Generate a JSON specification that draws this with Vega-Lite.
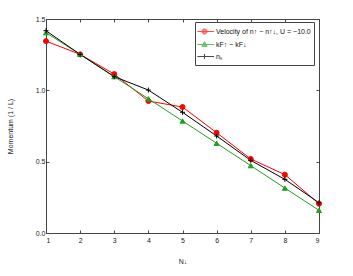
{
  "$schema": "https://vega.github.io/schema/vega-lite/v6.json",
  "width": 273,
  "height": 214,
  "autosize": {"type": "none"},
  "padding": {"left": 46, "top": 19, "right": 34, "bottom": 43},
  "background": "white",
  "config": {
    "font": "Liberation Sans",
    "view": {"stroke": "#444", "strokeWidth": 1},
    "axis": {"grid": false, "domain": false, "tickColor": "#444", "tickSize": -3, "labelFontSize": 7, "labelColor": "#222", "titleFontSize": 7, "titleFontWeight": "normal", "titleColor": "#222", "labelFont": "Liberation Sans", "titleFont": "Liberation Sans"},
    "legend": {"labelFont": "Liberation Sans", "labelFontSize": 7, "labelColor": "#111"}
  },
  "data": {"values": [
    {"N": 1, "s": "Velocity of n↑ − n↑↓, U = −10.0", "v": 1.345},
    {"N": 2, "s": "Velocity of n↑ − n↑↓, U = −10.0", "v": 1.252},
    {"N": 3, "s": "Velocity of n↑ − n↑↓, U = −10.0", "v": 1.114},
    {"N": 4, "s": "Velocity of n↑ − n↑↓, U = −10.0", "v": 0.925},
    {"N": 5, "s": "Velocity of n↑ − n↑↓, U = −10.0", "v": 0.883},
    {"N": 6, "s": "Velocity of n↑ − n↑↓, U = −10.0", "v": 0.703},
    {"N": 7, "s": "Velocity of n↑ − n↑↓, U = −10.0", "v": 0.519},
    {"N": 8, "s": "Velocity of n↑ − n↑↓, U = −10.0", "v": 0.409},
    {"N": 9, "s": "Velocity of n↑ − n↑↓, U = −10.0", "v": 0.205},
    {"N": 1, "s": "kF↑ − kF↓", "v": 1.404},
    {"N": 2, "s": "kF↑ − kF↓", "v": 1.252},
    {"N": 3, "s": "kF↑ − kF↓", "v": 1.096},
    {"N": 4, "s": "kF↑ − kF↓", "v": 0.941},
    {"N": 5, "s": "kF↑ − kF↓", "v": 0.785},
    {"N": 6, "s": "kF↑ − kF↓", "v": 0.629},
    {"N": 7, "s": "kF↑ − kF↓", "v": 0.472},
    {"N": 8, "s": "kF↑ − kF↓", "v": 0.315},
    {"N": 9, "s": "kF↑ − kF↓", "v": 0.159},
    {"N": 1, "s": "nₖ", "v": 1.418},
    {"N": 2, "s": "nₖ", "v": 1.252},
    {"N": 3, "s": "nₖ", "v": 1.096},
    {"N": 4, "s": "nₖ", "v": 1.002},
    {"N": 5, "s": "nₖ", "v": 0.846},
    {"N": 6, "s": "nₖ", "v": 0.680},
    {"N": 7, "s": "nₖ", "v": 0.509},
    {"N": 8, "s": "nₖ", "v": 0.376},
    {"N": 9, "s": "nₖ", "v": 0.212}
  ]},
  "resolve": {
    "scale": {"stroke": "independent", "fill": "independent", "shape": "independent"},
    "axis": {"x": "independent", "y": "independent"}
  },
  "layer": [
    {
      "mark": {"type": "line", "strokeWidth": 1},
      "encoding": {
        "x": {"field": "N", "type": "quantitative", "title": "N↓", "scale": {"domain": [1, 9], "nice": false, "zero": false}, "axis": {"orient": "bottom", "values": [1,2,3,4,5,6,7,8,9], "labelPadding": 6, "titlePadding": 14}},
        "y": {"field": "v", "type": "quantitative", "title": "Momentum (1 / L)", "scale": {"domain": [0, 1.5], "nice": false}, "axis": {"orient": "left", "values": [0, 0.5, 1, 1.5], "labelPadding": 4, "titlePadding": 22}},
        "stroke": {"field": "s", "type": "nominal", "legend": null, "scale": {"domain": ["Velocity of n↑ − n↑↓, U = −10.0", "kF↑ − kF↓", "nₖ"], "range": ["#ff0000", "#20a020", "#000000"]}},
        "order": {"field": "N", "type": "quantitative"}
      }
    },
    {
      "mark": {"type": "point", "filled": true, "size": 25, "strokeWidth": 1, "opacity": 1},
      "encoding": {
        "x": {"field": "N", "type": "quantitative", "axis": {"orient": "top", "values": [1,2,3,4,5,6,7,8,9], "labels": false, "title": null}},
        "y": {"field": "v", "type": "quantitative", "axis": {"orient": "right", "values": [0, 0.5, 1, 1.5], "labels": false, "title": null}},
        "fill": {"field": "s", "type": "nominal", "legend": null, "scale": {"domain": ["Velocity of n↑ − n↑↓, U = −10.0", "kF↑ − kF↓", "nₖ"], "range": ["#ff0000", "#20a020", "#000000"]}},
        "stroke": {"field": "s", "type": "nominal", "legend": null, "scale": {"domain": ["Velocity of n↑ − n↑↓, U = −10.0", "kF↑ − kF↓", "nₖ"], "range": ["#ff0000", "#20a020", "#000000"]}},
        "shape": {"field": "s", "type": "nominal", "legend": null, "scale": {"domain": ["Velocity of n↑ − n↑↓, U = −10.0", "kF↑ − kF↓", "nₖ"], "range": ["circle", "triangle-up", "M-1,0H1M0,-1V1"]}}
      }
    },
    {
      "transform": [{"filter": "datum.N > 100"}],
      "mark": {"type": "point", "filled": true, "strokeWidth": 1},
      "encoding": {
        "x": {"field": "N", "type": "quantitative", "axis": null},
        "y": {"field": "v", "type": "quantitative", "axis": null},
        "fill": {"field": "s", "type": "nominal", "scale": {"domain": ["Velocity of n↑ − n↑↓, U = −10.0", "kF↑ − kF↓", "nₖ"], "range": ["#ff0000", "#20a020", "#000000"]}, "legend": {"orient": "none", "legendX": 149, "legendY": 3, "title": null, "fillColor": "white", "strokeColor": "#444", "padding": 3, "symbolSize": 144, "symbolStrokeWidth": 1, "rowPadding": 1, "labelOffset": 5}},
        "stroke": {"field": "s", "type": "nominal", "scale": {"domain": ["Velocity of n↑ − n↑↓, U = −10.0", "kF↑ − kF↓", "nₖ"], "range": ["#ff0000", "#20a020", "#000000"]}, "legend": {"orient": "none", "legendX": 149, "legendY": 3, "title": null, "fillColor": "white", "strokeColor": "#444", "padding": 3, "symbolSize": 144, "symbolStrokeWidth": 1, "rowPadding": 1, "labelOffset": 5}},
        "shape": {"field": "s", "type": "nominal", "scale": {"domain": ["Velocity of n↑ − n↑↓, U = −10.0", "kF↑ − kF↓", "nₖ"], "range": ["M-1.2,0H1.6M0.42,0A0.42,0.42 0 1,1 -0.42,0A0.42,0.42 0 1,1 0.42,0Z", "M-1.2,0H1.6M0,-0.46L0.44,0.3L-0.44,0.3Z", "M-1.2,0H1.6M0,-0.42V0.42"]}, "legend": {"orient": "none", "legendX": 149, "legendY": 3, "title": null, "fillColor": "white", "strokeColor": "#444", "padding": 3, "symbolSize": 144, "symbolStrokeWidth": 1, "rowPadding": 1, "labelOffset": 5}}
      }
    }
  ]
}
